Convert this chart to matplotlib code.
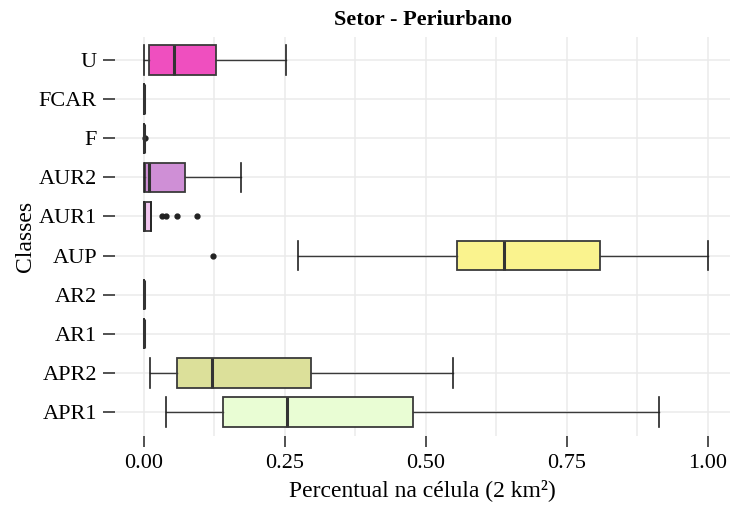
import numpy as np
import matplotlib.pyplot as plt
from matplotlib.ticker import MultipleLocator

plt.rcParams['font.family'] = ['Liberation Serif', 'DejaVu Serif']

# classes de baixo para cima
classes = ["APR1", "APR2", "AR1", "AR2", "AUP", "AUR1", "AUR2", "F", "FCAR", "U"]
wlo = [0.039, 0.0115, 0.0, 0.0, 0.273, 0.0, 0.0, 0.0, 0.0, 0.0]
q1 = [0.140, 0.059, 0.0, 0.0, 0.556, 0.0, 0.002, 0.0, 0.0, 0.010]
med = [0.254, 0.121, 0.0, 0.0, 0.638, 0.0, 0.010, 0.0, 0.0, 0.054]
q3 = [0.477, 0.297, 0.0, 0.0, 0.809, 0.013, 0.074, 0.0, 0.0, 0.128]
whi = [0.913, 0.549, 0.0, 0.0, 1.0, 0.013, 0.172, 0.0, 0.0, 0.252]
outliers = [[], [], [], [], [0.123], [0.033, 0.040, 0.059, 0.095], [], [0.003], [], []]
cores = ["#e9fdd4", "#dce09a", "#ffffff", "#ffffff", "#faf38e",
         "#f2c6f0", "#cf8fd6", "#ffffff", "#ffffff", "#ef4fbf"]

stats = []
for i in range(len(classes)):
    stats.append(dict(label=classes[i], whislo=wlo[i], q1=q1[i], med=med[i],
                      q3=q3[i], whishi=whi[i], fliers=outliers[i]))

fig = plt.figure(figsize=(7.33, 5.05), dpi=100)
ax = fig.add_axes([115/733, 69.5/505, 615/733, 399/505])

ax.xaxis.set_major_locator(MultipleLocator(0.25))
ax.xaxis.set_minor_locator(MultipleLocator(0.125))
ax.grid(True, which='both', axis='x', color='#ebebeb', linewidth=1.1)
ax.grid(True, which='major', axis='y', color='#ebebeb', linewidth=1.1)
ax.set_axisbelow(True)

bp = ax.bxp(stats, positions=np.arange(1, len(classes) + 1), orientation='horizontal',
            widths=0.75, patch_artist=True, showcaps=True,
            boxprops=dict(edgecolor='#3a3a3a', linewidth=1.3),
            whiskerprops=dict(color='#3a3a3a', linewidth=1.0),
            capprops=dict(color='#222222', linewidth=1.2),
            medianprops=dict(color='#333333', linewidth=2.2),
            flierprops=dict(marker='o', markerfacecolor='#222222', markeredgecolor='#222222',
                            markersize=3.5))
for patch, c in zip(bp['boxes'], cores):
    patch.set_facecolor(c)
# barras das extremidades com a mesma altura da caixa
for cap in bp['caps']:
    y = cap.get_ydata()
    m = (y[0] + y[1]) / 2
    cap.set_ydata([m - 0.375, m + 0.375])

ax.set_xlim(-0.0505, 1.039)
ax.set_ylim(0.4, 10.6)
ax.set_yticks(np.arange(1, len(classes) + 1))
ax.set_yticklabels(classes)
ax.set_xticks([0, 0.25, 0.5, 0.75, 1.0])
ax.set_xticklabels(["0.00", "0.25", "0.50", "0.75", "1.00"])
ax.tick_params(axis='both', which='major', labelsize=16, colors='#333333', labelcolor='black')
ax.tick_params(axis='y', length=9, width=1.2, pad=4)
ax.tick_params(axis='x', length=8, width=1.2, pad=5)
ax.tick_params(which='minor', length=0)
for s in ax.spines.values():
    s.set_visible(False)

ax.set_xlabel("Percentual na célula (2 km²)", fontsize=17, labelpad=5)
ax.set_ylabel("Classes", fontsize=17, labelpad=2)
ax.set_title("Setor - Periurbano", fontsize=16, fontweight='bold', pad=8)

fig.savefig("out.png", dpi=100)
